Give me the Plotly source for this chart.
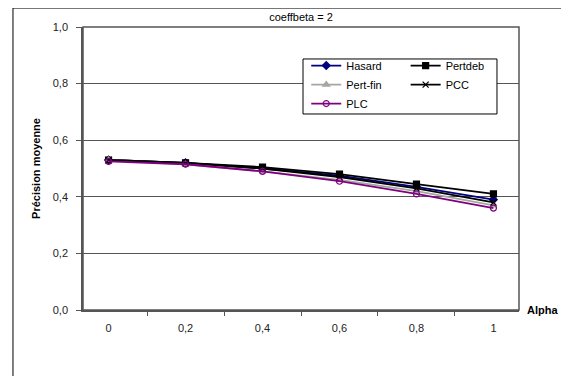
import plotly.graph_objects as go

# Data
alpha = ["0", "0,2", "0,4", "0,6", "0,8", "1"]
hasard = [0.53, 0.52, 0.50, 0.475, 0.435, 0.39]
pertdeb = [0.53, 0.52, 0.505, 0.48, 0.445, 0.41]
pert_fin = [0.53, 0.515, 0.49, 0.46, 0.42, 0.37]
pcc = [0.53, 0.52, 0.50, 0.47, 0.43, 0.38]
plc = [0.525, 0.515, 0.49, 0.455, 0.41, 0.36]

FONT = "Liberation Sans, Arial, sans-serif"

series = [
    ("Hasard", hasard, "#000080", "diamond", 6, "legend"),
    ("Pertdeb", pertdeb, "#000000", "square", 6, "legend2"),
    ("Pert-fin", pert_fin, "#a4a8a0", "triangle-up", 6, "legend"),
    ("PCC", pcc, "#000000", "x-thin-open", 6, "legend2"),
    ("PLC", plc, "#800080", "circle-open", 6, "legend"),
]

fig = go.Figure()
for name, vals, color, symbol, size, leg in series:
    fig.add_trace(go.Scatter(
        x=alpha, y=vals, name=name, mode="lines+markers",
        line=dict(color=color, width=1.8),
        marker=dict(symbol=symbol, size=size, color=color,
                    line=dict(color=color, width=1.2)),
        legend=leg,
    ))

# plot area border + legend box + outer chart border
fig.add_shape(type="rect", xref="paper", yref="paper", x0=0, x1=1, y0=0, y1=1,
              line=dict(color="#555555", width=1.5), layer="below")
fig.add_shape(type="rect", xref="paper", yref="paper",
              x0=0.5046, x1=0.9495, y0=0.6926, y1=0.887,
              line=dict(color="#000000", width=1), fillcolor="white", layer="above")
fig.add_shape(type="rect", xref="paper", yref="paper",
              x0=-0.1606, x1=1.11, y0=-0.26, y1=1.067,
              line=dict(color="#000000", width=1))

fig.add_annotation(text="<b>Alpha</b>", xref="paper", yref="paper", x=1, y=0,
                   xanchor="left", yanchor="middle", xshift=6, showarrow=False,
                   font=dict(family=FONT, size=11, color="#000000"))

# page body has an 8px margin, so the figure is 8px smaller and shifted
fig.update_layout(
    width=561, height=368,
    margin=dict(l=75, r=50, t=19, b=66),
    paper_bgcolor="white", plot_bgcolor="white",
    separators=", ",
    font=dict(family=FONT, size=10, color="#222222"),
    title=dict(text="coeffbeta = 2", xref="paper", x=0.5, xanchor="center",
               y=0.976, yanchor="middle",
               font=dict(family=FONT, size=11, color="#000000")),
    legend=dict(x=0.512, y=0.915, xanchor="left", yanchor="top",
                bgcolor="rgba(0,0,0,0)", borderwidth=0, tracegroupgap=0,
                font=dict(family=FONT, size=11, color="#000000")),
    legend2=dict(x=0.74, y=0.915, xanchor="left", yanchor="top",
                 bgcolor="rgba(0,0,0,0)", borderwidth=0, tracegroupgap=0,
                 font=dict(family=FONT, size=11, color="#000000")),
)

fig.update_xaxes(
    type="category", showgrid=False, zeroline=False,
    showline=True, linecolor="#555555", linewidth=1.5,
    ticks="outside", tickson="boundaries", ticklen=4, tickcolor="#555555",
    ticklabelstandoff=7,
    tickfont=dict(family=FONT, size=11, color="#222222"),
)
fig.update_yaxes(
    range=[0, 1], dtick=0.2, tickformat=".1f",
    showgrid=True, gridcolor="#555555", gridwidth=1.2, zeroline=False,
    showline=True, linecolor="#555555", linewidth=1.5,
    ticks="outside", ticklen=5, tickcolor="#555555",
    ticklabelstandoff=6,
    tickfont=dict(family=FONT, size=11, color="#222222"),
    title=dict(text="<b>Précision moyenne</b>", standoff=10,
               font=dict(family=FONT, size=11, color="#000000")),
)

fig.write_html("out.html")
